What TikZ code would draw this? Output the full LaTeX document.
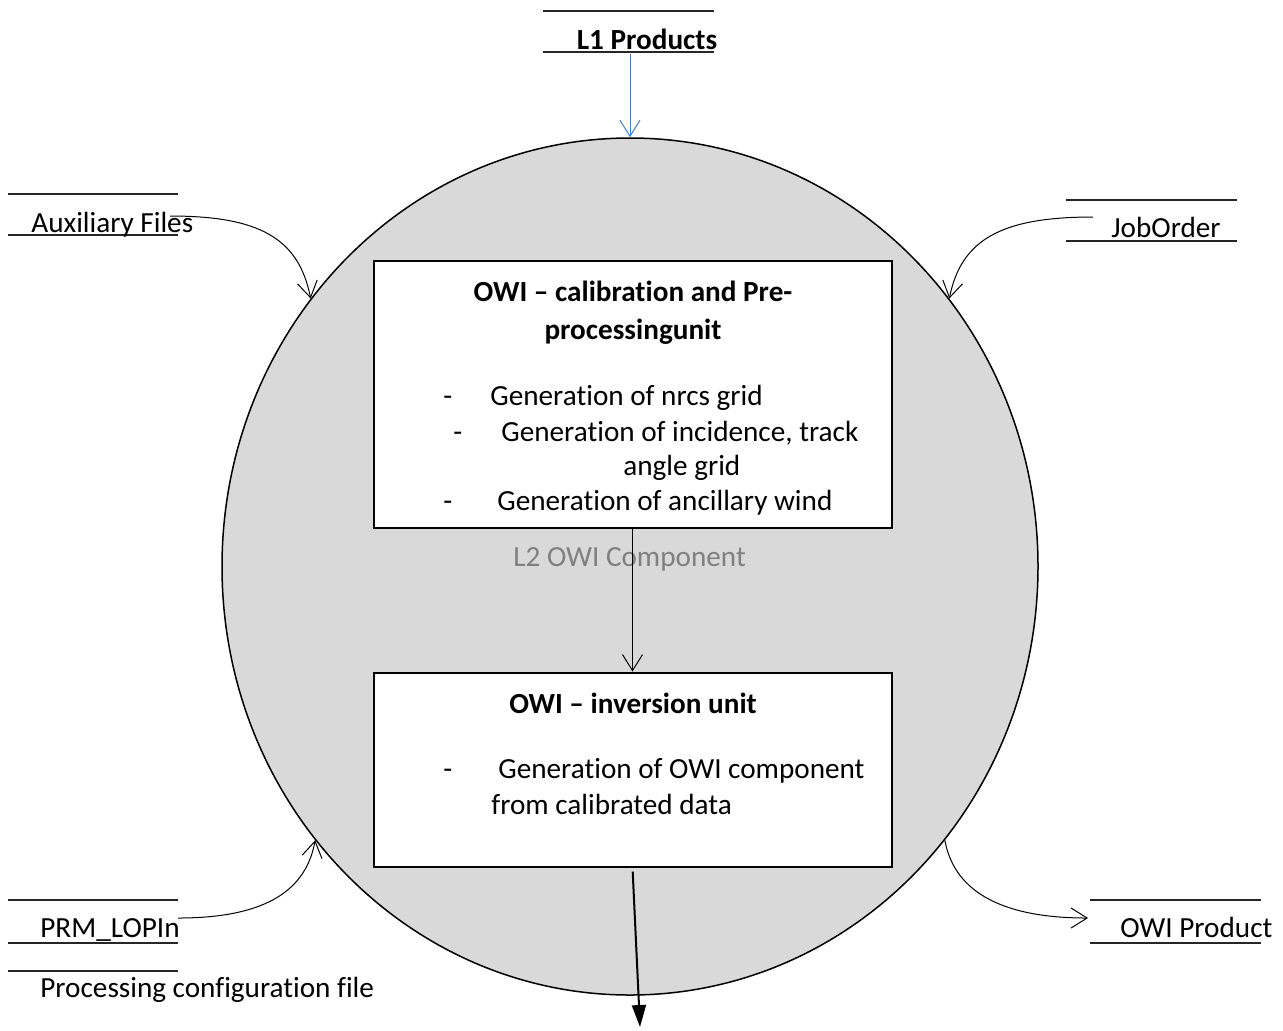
\documentclass[tikz,border=0pt]{standalone}
\usepackage{fontspec}
\setmainfont{Carlito}[Ligatures=NoCommon]
\usetikzlibrary{arrows.meta,shapes.geometric}
\definecolor{bubble}{HTML}{D9D9D9}
\definecolor{linkblue}{HTML}{4A7EBB}
\definecolor{labelgray}{HTML}{808080}
\begin{document}
\begin{tikzpicture}[x=0.5pt,y=-0.5pt,
  txt/.style={inner sep=0pt,anchor=base west,font=\fontsize{14.6}{17.6}\selectfont},
  ctxt/.style={inner sep=0pt,anchor=base,font=\fontsize{14.6}{17.6}\selectfont\bfseries},
  storeline/.style={line width=0.75pt,draw=black!85},
  flow/.style={line width=0.5pt,-{Straight Barb[length=8pt,width=10pt]}},
  unitbox/.style={draw,line width=1pt,fill=white,rectangle,inner sep=0pt,minimum width=259pt}
]
\useasboundingbox (0,0) rectangle (1283,1030);

% process bubble
\node[ellipse,draw,fill=bubble,line width=0.75pt,minimum width=408pt,minimum height=428.5pt,inner sep=0pt] (proc) at (630,566.5) {};

% units
\node[unitbox,minimum height=133.5pt] (cal) at (632.5,394.5) {};
\node[unitbox,minimum height=97pt] (inv) at (632.5,769.5) {};

% texts of calibration unit
\node[ctxt] (calT1) at (633,301) {OWI – calibration and Pre-};
\node[ctxt] (calT2) at (633,339) {processingunit};
\node[txt] (calD1) at (443,405) {-};
\node[txt] (calL1) at (490,405) {Generation of nrcs grid};
\node[txt] (calD2) at (453,441) {-};
\node[txt] (calL2) at (501,441) {Generation of incidence, track};
\node[txt] (calL3) at (623,475) {angle grid};
\node[txt] (calD4) at (443,510) {-};
\node[txt] (calL4) at (497,510) {Generation of ancillary wind};

% texts of inversion unit
\node[ctxt] (invT) at (633,713) {OWI – inversion unit};
\node[txt] (invD1) at (443,778) {-};
\node[txt] (invL1) at (498,778) {Generation of OWI component};
\node[txt] (invL2) at (491,814) {from calibrated data};

% internal flow label
\node[txt,text=labelgray] (l2lab) at (513,566) {L2 OWI Component};
\draw[flow] (cal.south) -- (inv.north);

% data stores
\draw[storeline] (543,11) -- (714,11) (543,52) -- (714,52);
\node[ctxt] (l1) at (647,49) {L1 Products};
\draw[storeline] (8,194) -- (178,194) (8,235) -- (178,235);
\node[txt] (aux) at (31,232) {Auxiliary Files};
\draw[storeline] (1066,200) -- (1237,200) (1066,241) -- (1237,241);
\node[txt] (job) at (1111,237) {JobOrder};
\draw[storeline] (8,900) -- (178,900) (8,943) -- (178,943);
\node[txt] (prm) at (40,937) {PRM\_LOPIn};
\draw[storeline] (8,971) -- (178,971);
\node[txt] (pcf) at (40,997) {Processing configuration file};
\draw[storeline] (1090,900) -- (1261,900) (1090,943) -- (1261,943);
\node[txt] (owip) at (1120,937) {OWI Product};

% connector end points
\coordinate (l1S) at (630,54);
\coordinate (auxS) at (170,216);
\coordinate (jobS) at (1093,217);
\coordinate (prmS) at (178,918);
\coordinate (owiE) at (1088,918);
\coordinate (outE) at (640,1027);

% connectors
\draw[flow,draw=linkblue] (l1S) -- (proc.north);
\draw[flow] (auxS) .. controls +(90,0) and +(-12,-60) .. (proc.140);
\draw[flow] (jobS) .. controls +(-90,0) and +(12,-60) .. (proc.40);
\draw[flow] (prmS) .. controls +(80,0) and +(-10,55) .. (proc.221);
\draw[flow] (proc.-41) .. controls +(10,55) and +(-80,0) .. (owiE);
\draw[line width=1pt,-{Triangle[length=11pt,width=7pt]},shorten <=2pt] (inv.south) -- (outE);
\end{tikzpicture}
\end{document}
